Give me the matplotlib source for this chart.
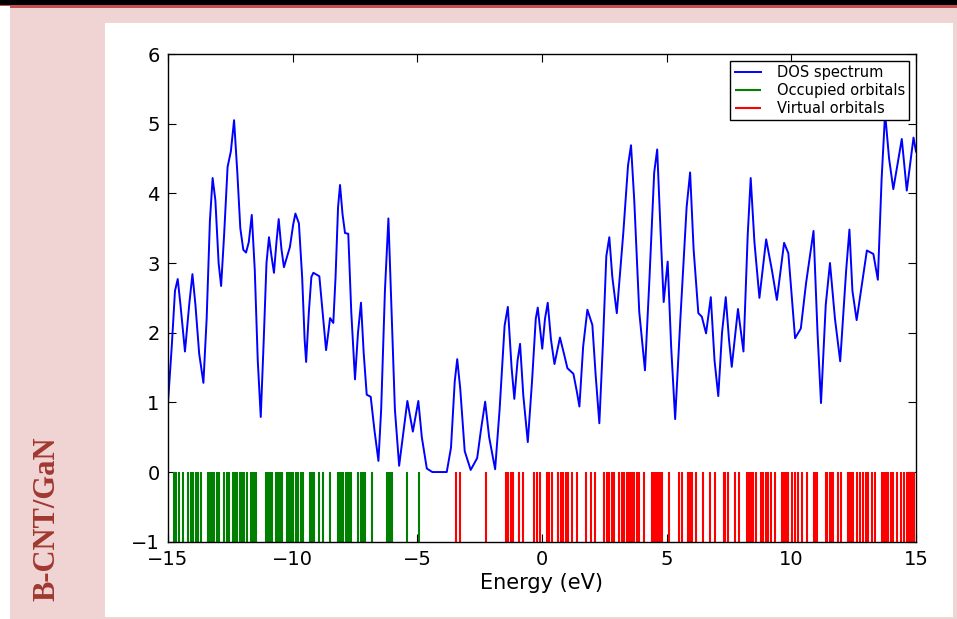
import numpy as np
import matplotlib
matplotlib.use("Agg")
import matplotlib.pyplot as plt
from matplotlib.patches import Rectangle

# DOS curve (energy in eV, DOS)
dos_e = [-15.00, -14.85, -14.72, -14.61, -14.50, -14.32, -14.15, -14.02, -13.90, -13.75,
         -13.58, -13.45, -13.32, -13.21, -13.10, -12.97, -12.87, -12.75, -12.61, -12.48,
         -12.35, -12.22, -12.10, -11.98, -11.87, -11.76, -11.64, -11.52, -11.40, -11.28,
         -11.16, -11.05, -10.95, -10.85, -10.75, -10.65, -10.56, -10.45, -10.35, -10.11,
         -9.98, -9.89, -9.75, -9.62, -9.52, -9.46, -9.35, -9.25, -9.17, -8.93,
         -8.80, -8.66, -8.57, -8.50, -8.37, -8.28, -8.18, -8.10, -8.00, -7.90,
         -7.77, -7.65, -7.50, -7.38, -7.26, -7.15, -7.03, -6.87, -6.72, -6.56,
         -6.45, -6.30, -6.16, -6.05, -5.90, -5.73, -5.55, -5.40, -5.18, -4.96,
         -4.82, -4.62, -4.40, -3.82, -3.65, -3.50, -3.40, -3.28, -3.10, -2.86,
         -2.60, -2.45, -2.28, -2.12, -1.88, -1.70, -1.50, -1.37, -1.22, -1.11,
         -0.98, -0.88, -0.75, -0.57, -0.40, -0.25, -0.17, 0.01, 0.12, 0.23,
         0.36, 0.50, 0.72, 0.88, 1.02, 1.26, 1.40, 1.50, 1.65, 1.82,
         2.02, 2.15, 2.30, 2.45, 2.58, 2.70, 2.82, 3.00, 3.26, 3.45,
         3.57, 3.70, 3.90, 4.13, 4.30, 4.50, 4.62, 4.75, 4.88, 5.04,
         5.18, 5.34, 5.55, 5.80, 5.94, 6.08, 6.27, 6.41, 6.58, 6.77,
         6.92, 7.07, 7.22, 7.37, 7.50, 7.61, 7.86, 8.08, 8.25, 8.37,
         8.52, 8.72, 8.99, 9.22, 9.42, 9.71, 9.88, 10.02, 10.15, 10.38,
         10.59, 10.89, 11.05, 11.19, 11.38, 11.55, 11.75, 11.96, 12.20, 12.33,
         12.45, 12.62, 13.03, 13.29, 13.47, 13.62, 13.76, 13.92, 14.09, 14.43,
         14.63, 14.90, 15.00]
dos_y = [1.00, 1.80, 2.60, 2.77, 2.40, 1.73, 2.40, 2.84, 2.40, 1.70,
         1.28, 2.20, 3.60, 4.22, 3.90, 3.00, 2.67, 3.40, 4.38, 4.60,
         5.05, 4.30, 3.50, 3.19, 3.15, 3.30, 3.69, 2.90, 1.60, 0.79,
         1.90, 3.00, 3.37, 3.10, 2.86, 3.30, 3.63, 3.20, 2.94, 3.23,
         3.55, 3.71, 3.57, 2.80, 1.90, 1.58, 2.30, 2.80, 2.86, 2.81,
         2.30, 1.75, 2.00, 2.21, 2.14, 2.80, 3.80, 4.12, 3.70, 3.43,
         3.42, 2.30, 1.33, 2.00, 2.43, 1.70, 1.11, 1.08, 0.60, 0.16,
         0.90, 2.60, 3.64, 2.50, 0.90, 0.09, 0.60, 1.02, 0.58, 1.02,
         0.50, 0.05, 0.00, 0.00, 0.35, 1.30, 1.62, 1.20, 0.30, 0.03,
         0.20, 0.60, 1.01, 0.50, 0.04, 0.90, 2.10, 2.37, 1.50, 1.05,
         1.60, 1.84, 1.10, 0.43, 1.30, 2.20, 2.36, 1.77, 2.20, 2.43,
         1.90, 1.55, 1.93, 1.70, 1.49, 1.41, 1.15, 0.94, 1.80, 2.33,
         2.11, 1.40, 0.70, 1.90, 3.10, 3.37, 2.80, 2.28, 3.43, 4.40,
         4.69, 3.90, 2.30, 1.46, 2.70, 4.30, 4.63, 3.50, 2.44, 3.02,
         1.80, 0.76, 2.20, 3.80, 4.30, 3.20, 2.28, 2.23, 1.99, 2.51,
         1.60, 1.09, 2.00, 2.51, 1.90, 1.51, 2.34, 1.73, 3.40, 4.22,
         3.30, 2.50, 3.34, 2.90, 2.47, 3.29, 3.14, 2.50, 1.92, 2.06,
         2.71, 3.46, 2.00, 0.99, 2.40, 3.00, 2.20, 1.59, 2.90, 3.48,
         2.60, 2.18, 3.18, 3.13, 2.76, 4.20, 5.15, 4.50, 4.06, 4.78,
         4.04, 4.80, 4.60]

# orbital energies (eV)
occupied = [-14.76, -14.68, -14.57, -14.39, -14.19, -14.09, -13.98, -13.89, -13.80, -13.68,
            -13.38, -13.32, -13.24, -13.14, -13.05, -12.95, -12.74, -12.65, -12.55, -12.39,
            -12.30, -12.22, -12.11, -12.03, -11.94, -11.84, -11.68, -11.60, -11.52, -11.47,
            -11.08, -11.00, -10.91, -10.84, -10.67, -10.60, -10.51, -10.44, -10.24, -10.16,
            -10.08, -9.97, -9.88, -9.77, -9.67, -9.57, -9.30, -9.21, -9.13, -8.94,
            -8.77, -8.50, -8.17, -8.10, -8.03, -7.97, -7.87, -7.81, -7.73, -7.66,
            -7.37, -7.27, -7.19, -7.09, -6.83, -6.23, -6.16, -6.10, -6.03, -5.40,
            -4.93]
virtual = [-3.45, -3.29, -2.24, -1.44, -1.36, -1.25, -1.17, -0.91, -0.77, -0.32,
           -0.21, -0.08, 0.19, 0.30, 0.39, 0.66, 0.75, 0.86, 0.96, 1.06,
           1.19, 1.39, 1.77, 1.95, 2.13, 2.49, 2.60, 2.69, 2.80, 2.89,
           3.10, 3.20, 3.30, 3.40, 3.46, 3.53, 3.60, 3.69, 3.80, 3.89,
           4.09, 4.40, 4.47, 4.53, 4.60, 4.69, 4.76, 4.83, 5.11, 5.51,
           5.60, 5.87, 5.94, 6.00, 6.18, 6.47, 6.74, 6.94, 7.28, 7.34,
           7.44, 7.74, 7.92, 8.21, 8.28, 8.34, 8.41, 8.48, 8.57, 8.79,
           8.88, 8.97, 9.08, 9.19, 9.35, 9.62, 9.68, 9.75, 9.82, 9.88,
           10.02, 10.15, 10.28, 10.42, 10.62, 10.89, 10.95, 11.02, 11.38, 11.45,
           11.55, 11.62, 11.69, 11.89, 11.99, 12.29, 12.36, 12.42, 12.49, 12.62,
           12.76, 12.89, 12.98, 13.09, 13.23, 13.36, 13.63, 13.69, 13.76, 13.83,
           13.89, 13.99, 14.09, 14.23, 14.39, 14.50, 14.63, 14.70, 14.76, 14.83,
           14.90]

W, H = 957, 619
fig = plt.figure(figsize=(W / 100, H / 100), dpi=100, facecolor="#f0d3d3")

# page decoration: black rule, red rule, white panel
fig.patches.append(Rectangle((0, 1 - 6 / H), 1, 6 / H, transform=fig.transFigure,
                             facecolor="black", edgecolor="none", zorder=0))
fig.patches.append(Rectangle((0, 1 - 8 / H), 1, 2.5 / H, transform=fig.transFigure,
                             facecolor="#c0504d", edgecolor="none", zorder=0))
fig.patches.append(Rectangle((0, 0), 10 / W, 1 - 6 / H, transform=fig.transFigure,
                             facecolor="white", edgecolor="none", zorder=0))
fig.patches.append(Rectangle((105 / W, 2 / H), 848 / W, 594 / H, transform=fig.transFigure,
                             facecolor="white", edgecolor="none", zorder=0))

fig.text(47 / W, 1 - 519 / H, "B-CNT/GaN", rotation=90, ha="center", va="center",
         family="Liberation Serif", weight="bold", fontsize=22, color="#a0382f")

ax = fig.add_axes([168 / W, 1 - 541.7 / H, 748 / W, 487.7 / H])
ax.set_zorder(5)
ax.plot(dos_e, dos_y, color="#0000ff", lw=1.4, label="DOS spectrum")
ax.vlines(occupied, -1, 0, color="#008000", lw=1.5, label="Occupied orbitals")
ax.vlines(virtual, -1, 0, color="#ff0000", lw=1.5, label="Virtual orbitals")

ax.set_xlim(-15, 15)
ax.set_ylim(-1, 6)
ax.set_xticks(np.arange(-15, 16, 5))
ax.set_yticks(np.arange(-1, 7, 1))
ax.tick_params(direction="in", top=True, right=True, length=5.5, width=0.8,
               labelsize=14, pad=6)
for s in ax.spines.values():
    s.set_linewidth(1.0)
ax.set_xlabel("Energy (eV)", fontsize=15, labelpad=3)

leg = ax.legend(loc="upper right", fontsize=10.5, fancybox=False, framealpha=1,
                edgecolor="black", borderpad=0.3, labelspacing=0.2,
                handlelength=1.8, handletextpad=1.1, borderaxespad=0.45)
leg.get_frame().set_linewidth(1.0)

fig.savefig("out.png", dpi=100, facecolor=fig.get_facecolor())
